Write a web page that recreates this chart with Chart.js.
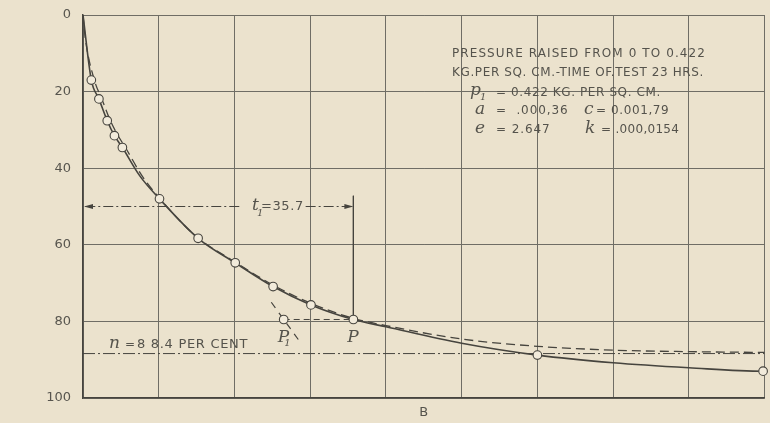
<!DOCTYPE html>
<html>
<head>
<meta charset="utf-8">
<script src="https://cdn.jsdelivr.net/npm/chart.js@4.4.1/dist/chart.umd.min.js"></script>
<style>
  html, body { margin: 0; padding: 0; background: #ebe2cd; }
  #wrap { width: 770px; height: 423px; }
</style>
</head>
<body>
<div id="wrap"><canvas id="settlement" width="770" height="423"></canvas></div>
<script>
// time axis has no printed ticks; settlement axis in per cent
const xMin = 0, xMax = 90, xStep = 10;
const yTicks = [0, 20, 40, 60, 80, 100];

// test readings (open circles)
const readingX = [1.1, 2.1, 3.2, 4.15, 5.2, 10.1, 15.2, 20.1, 25.1, 30.1, 35.7, 60, 89.8];
const readingY = [17, 21.9, 27.6, 31.5, 34.6, 48, 58.3, 64.7, 70.9, 75.7, 79.5, 88.8, 93];

// observed curve (solid), drawn through the readings
const observedX = [0, 1.1, 2.1, 3.2, 4.15, 5.2, 7.5, 10.1, 15.2, 20.1, 25.1, 30.1, 35.7, 40, 50, 60, 70, 80, 89.8, 90];
const observedY = [0, 17, 21.9, 27.6, 31.5, 34.6, 42, 48, 58.3, 64.7, 70.9, 75.7, 79.5, 81.4, 85.7, 88.8, 90.8, 92.1, 93, 93];

// computed curve (dashed)
const computedX = [0, 0.3, 1.5, 2.5, 3.6, 4.6, 5.6, 7.8, 10, 15, 20, 25, 30, 35.7, 40, 50, 60, 70, 80, 90];
const computedY = [0, 6, 17, 22, 27.5, 31.4, 34.6, 42, 47.6, 57.9, 64.4, 70.4, 75.2, 79.2, 81.1, 84.6, 86.5, 87.5, 87.9, 88.1];

// final settlement n, time t1 and the construction of P1 / P
const nPercent = 88.4;
const t1 = 35.7;
const pY = 79.5;
const p1X = 26.5;
const tangentX = [24.86, 28.6];
const tangentY = [75.0, 85.2];
const t1ArrowY = 50;
const t1TopY = 47.2;

const ink = '#46443e';

const pts = (xs, ys) => xs.map((x, i) => ({ x: x, y: ys[i] }));

const lineSet = (data, extra) => Object.assign({
  data: data,
  showLine: true,
  borderColor: ink,
  borderWidth: 1,
  pointRadius: 0,
  fill: false
}, extra);

const text = (ctx, str, x, y, font, align, spacing) => {
  ctx.font = font;
  ctx.textAlign = align || 'left';
  ctx.textBaseline = 'middle';
  ctx.letterSpacing = (spacing || 0) + 'px';
  ctx.fillText(str, x, y);
};

// labels, arrowheads and the parameter block
const notes = {
  id: 'notes',
  afterDatasetsDraw(chart) {
    const { ctx, scales: { x, y } } = chart;
    ctx.save();

    // arrowheads on the t1 dimension line
    const ay = y.getPixelForValue(t1ArrowY);
    const ax0 = x.getPixelForValue(0) + 1;
    const ax1 = x.getPixelForValue(t1);
    ctx.fillStyle = ink;
    ctx.beginPath();
    ctx.moveTo(ax0, ay); ctx.lineTo(ax0 + 9, ay - 2.5); ctx.lineTo(ax0 + 9, ay + 2.5); ctx.closePath();
    ctx.fill();
    ctx.beginPath();
    ctx.moveTo(ax1, ay); ctx.lineTo(ax1 - 9, ay - 2.5); ctx.lineTo(ax1 - 9, ay + 2.5); ctx.closePath();
    ctx.fill();

    ctx.fillStyle = '#55534c';
    const sans = "12px 'DejaVu Sans'";
    const ital = "italic 17px 'DejaVu Serif'";
    const sub = "italic 10px 'DejaVu Serif'";

    // t1 = 35.7
    text(ctx, 't', 252, ay - 1, ital);
    text(ctx, '1', 257, ay + 7, sub);
    text(ctx, '=35.7', 261, ay, "13px 'DejaVu Sans'", 'left', 0.6);

    // P1 and P
    const py = y.getPixelForValue(pY) + 18;
    text(ctx, 'P', x.getPixelForValue(p1X) - 6, py, ital);
    text(ctx, '1', x.getPixelForValue(p1X) + 0.5, py + 6, sub);
    text(ctx, 'P', x.getPixelForValue(t1) - 6, py, ital);

    // n = 88.4 per cent
    const ny = y.getPixelForValue(nPercent) - 9;
    text(ctx, 'n', 109, ny - 1, ital);
    text(ctx, '=', 125, ny, sans);
    text(ctx, '8 8.4 PER CENT', 137, ny, "13px 'DejaVu Sans'", 'left', 0.7);

    // parameter block
    text(ctx, 'PRESSURE RAISED FROM 0 TO 0.422', 579, 54, sans, 'center', 1.1);
    text(ctx, 'KG.PER SQ. CM.-TIME OF.TEST 23 HRS.', 578, 73, sans, 'center', 0.6);
    text(ctx, 'p', 470, 91, ital);
    text(ctx, '1', 480, 97, sub);
    text(ctx, '= 0.422 KG. PER SQ. CM.', 496, 93, sans, 'left', 0.6);
    text(ctx, 'a', 475, 110, ital);
    text(ctx, '=  .000,36', 496, 111, sans, 'left', 0.9);
    text(ctx, 'c', 584, 110, ital);
    text(ctx, '= 0.001,79', 596, 111, sans, 'left', 0.6);
    text(ctx, 'e', 475, 129, ital);
    text(ctx, '= 2.647', 496, 130, sans, 'left', 0.9);
    text(ctx, 'k', 585, 129, ital);
    text(ctx, '= .000,0154', 601, 130, sans, 'left', 0.3);

    // axis letter
    text(ctx, 'B', (chart.chartArea.left + chart.chartArea.right) / 2, 413, "13px 'DejaVu Sans'", 'center');
    ctx.restore();
  }
};

new Chart(document.getElementById('settlement'), {
  type: 'scatter',
  data: {
    datasets: [
      {
        data: pts(readingX.concat([p1X]), readingY.concat([pY])),
        pointRadius: 4.3,
        pointBorderWidth: 1.1,
        pointBackgroundColor: '#f2ebdb',
        pointBorderColor: ink,
        showLine: false,
        clip: false
      },
      lineSet(pts(observedX, observedY), { cubicInterpolationMode: 'monotone', borderWidth: 1.6 }),
      lineSet(pts(computedX, computedY), { cubicInterpolationMode: 'monotone', borderWidth: 1.3, borderDash: [9, 5] }),
      lineSet(pts([0, 90], [nPercent, nPercent]), { borderDash: [12, 3, 2, 3] }),
      lineSet([{ x: 0.3, y: t1ArrowY }, { x: 21, y: t1ArrowY }, { x: 25, y: null }, { x: 29.4, y: t1ArrowY }, { x: t1, y: t1ArrowY }],
        { borderDash: [10, 3, 2, 3], spanGaps: false }),
      lineSet(pts([t1, t1], [t1TopY, pY])),
      lineSet(pts([p1X, t1], [pY, pY]), { borderDash: [6, 4] }),
      lineSet(pts(tangentX, tangentY), { borderDash: [7, 6], borderWidth: 1.2 })
    ]
  },
  options: {
    responsive: false,
    animation: false,
    events: [],
    layout: { padding: { top: 15, right: 1, left: 0, bottom: 0 } },
    plugins: { legend: { display: false }, tooltip: { enabled: false } },
    scales: {
      x: {
        type: 'linear',
        min: xMin,
        max: xMax,
        ticks: { display: false, stepSize: xStep },
        grid: { color: '#6f6d65', lineWidth: 1, drawTicks: false },
        border: { color: ink, width: 1.5 },
        afterFit: (scale) => { scale.height = 25; }
      },
      y: {
        type: 'linear',
        reverse: true,
        min: yTicks[0],
        max: yTicks[yTicks.length - 1],
        afterBuildTicks: (scale) => { scale.ticks = yTicks.map(v => ({ value: v })); },
        ticks: { color: '#57554e', padding: 12, font: { family: "'DejaVu Sans'", size: 13 } },
        grid: { color: '#6f6d65', lineWidth: 1, drawTicks: false },
        border: { color: ink, width: 1.5 },
        afterFit: (scale) => {
          scale.width = 83;
          scale.paddingTop = 0;
          scale.paddingBottom = 0;
        }
      }
    }
  },
  plugins: [notes]
});
</script>
</body>
</html>
